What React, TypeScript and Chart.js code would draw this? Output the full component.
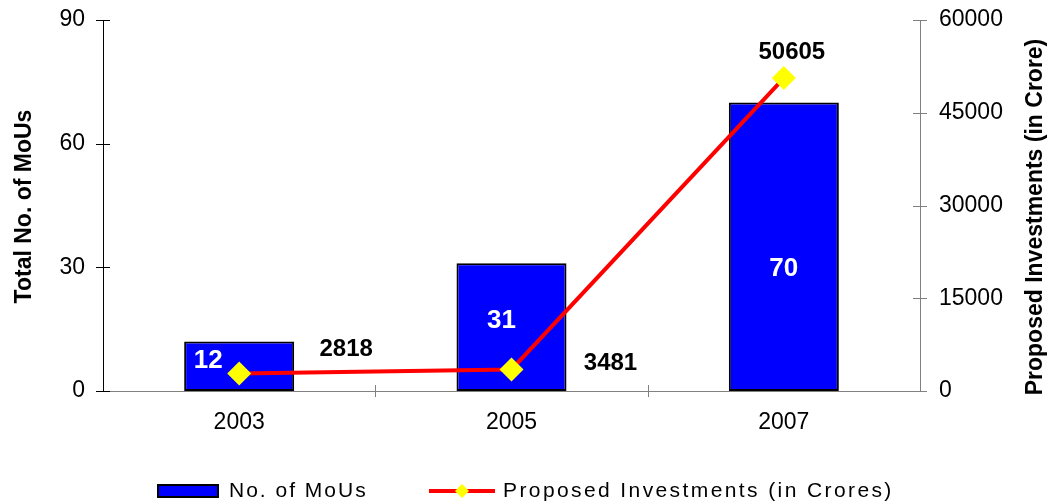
import React, { useEffect, useRef } from "react";
import { Chart, registerables } from "chart.js";

Chart.register(...registerables);

// ---- data ----
const years = ["2003", "2005", "2007"];
const mouCounts = [12, 31, 70];
const investments = [2818, 3481, 50605];
const mouTicks = [0, 30, 60, 90];
const investmentTicks = [0, 15000, 30000, 45000, 60000];
const barLabel = "No. of MoUs";
const lineLabel = "Proposed Investments (in Crores)";
const leftTitle = "Total No. of MoUs";
const rightTitle = "Proposed Investments (in Crore)";

// ---- styles ----
const FONT = "'Liberation Sans', Arial, Helvetica, sans-serif";
const BAR_LABEL_OFFSETS = [
  [-31, -5],
  [-10, -6],
  [0, 22],
];
const LINE_LABEL_OFFSETS = [
  [107, -24],
  [99, -6],
  [8, -26],
];

const noPad = (s: any) => {
  s.paddingTop = 0;
  s.paddingBottom = 0;
  s.paddingLeft = 0;
  s.paddingRight = 0;
};

const overlayPlugin = {
  id: "overlay",
  afterDatasetsDraw(chart: any) {
    const ctx = chart.ctx as CanvasRenderingContext2D;
    ctx.save();
    ctx.textAlign = "center";
    ctx.textBaseline = "middle";
    const barMeta = chart.getDatasetMeta(0);
    ctx.font = `bold 26px ${FONT}`;
    ctx.fillStyle = "#FFFFFF";
    barMeta.data.forEach((el: any, i: number) => {
      const cy = (el.y + el.base) / 2;
      const [dx, dy] = BAR_LABEL_OFFSETS[i];
      ctx.fillText(String(chart.data.datasets[0].data[i]), el.x + dx, cy + dy);
    });
    const lineMeta = chart.getDatasetMeta(1);
    ctx.font = `bold 24px ${FONT}`;
    ctx.fillStyle = "#000000";
    lineMeta.data.forEach((el: any, i: number) => {
      const [dx, dy] = LINE_LABEL_OFFSETS[i];
      ctx.fillText(String(chart.data.datasets[1].data[i]), el.x + dx, el.y + dy);
    });
    ctx.restore();
  },
  afterDraw(chart: any) {
    const ctx = chart.ctx as CanvasRenderingContext2D;
    const area = chart.chartArea;
    const sy = chart.scales.y;
    const sy1 = chart.scales.y1;
    const sx = chart.scales.x;
    ctx.save();
    ctx.lineWidth = 1;
    ctx.strokeStyle = "#000000";
    sy.ticks.forEach((_t: any, i: number) => {
      const y = Math.round(sy.getPixelForTick(i)) + 0.5;
      ctx.beginPath();
      ctx.moveTo(area.left - 7, y);
      ctx.lineTo(area.left + 7, y);
      ctx.stroke();
    });
    ctx.strokeStyle = "#808080";
    sy1.ticks.forEach((_t: any, i: number) => {
      const y = Math.round(sy1.getPixelForTick(i)) + 0.5;
      ctx.beginPath();
      ctx.moveTo(area.right - 7, y);
      ctx.lineTo(area.right + 7, y);
      ctx.stroke();
    });
    for (let i = 0; i < sx.ticks.length - 1; i++) {
      const x = Math.round((sx.getPixelForTick(i) + sx.getPixelForTick(i + 1)) / 2) + 0.5;
      ctx.beginPath();
      ctx.moveTo(x, area.bottom - 6);
      ctx.lineTo(x, area.bottom + 6);
      ctx.stroke();
    }
    // axis titles
    ctx.fillStyle = "#000000";
    ctx.font = `bold 23px ${FONT}`;
    ctx.textAlign = "center";
    ctx.textBaseline = "middle";
    ctx.save();
    ctx.translate(25, (area.top + area.bottom) / 2 + 1);
    ctx.rotate(-Math.PI / 2);
    ctx.fillText(leftTitle, 0, 0);
    ctx.restore();
    ctx.save();
    ctx.translate(1036, 217);
    ctx.rotate(-Math.PI / 2);
    ctx.fillText(rightTitle, 0, 0);
    ctx.restore();

    // legend
    const ds0 = chart.data.datasets[0];
    const ds1 = chart.data.datasets[1];
    const ly = 491;
    ctx.fillStyle = ds0.backgroundColor;
    ctx.fillRect(158, 485, 60, 12);
    ctx.lineWidth = 2;
    ctx.strokeStyle = "#000000";
    ctx.strokeRect(158, 485, 60, 12);
    ctx.font = `21px ${FONT}`;
    (ctx as any).letterSpacing = "2px";
    ctx.textAlign = "left";
    ctx.fillStyle = "#000000";
    ctx.fillText(ds0.label, 229, ly);
    ctx.strokeStyle = ds1.borderColor;
    ctx.lineWidth = 4;
    ctx.beginPath();
    ctx.moveTo(429, ly);
    ctx.lineTo(495, ly);
    ctx.stroke();
    ctx.fillStyle = ds1.pointBackgroundColor;
    ctx.beginPath();
    ctx.moveTo(462 - 7, ly);
    ctx.lineTo(462, ly - 7);
    ctx.lineTo(462 + 7, ly);
    ctx.lineTo(462, ly + 7);
    ctx.closePath();
    ctx.fill();
    ctx.fillStyle = "#000000";
    (ctx as any).letterSpacing = "2.4px";
    ctx.fillText(ds1.label, 503, ly);
    ctx.restore();
  },
};

export default function App() {
  const canvasRef = useRef<HTMLCanvasElement | null>(null);

  useEffect(() => {
    if (!canvasRef.current) return;
    const chart = new Chart(canvasRef.current, {
      type: "bar",
      data: {
        labels: years,
        datasets: [
          {
            type: "bar",
            label: barLabel,
            data: mouCounts,
            backgroundColor: "#0000FF",
            borderColor: "#000000",
            borderWidth: 2,
            borderSkipped: false,
            categoryPercentage: 1,
            barPercentage: 0.404,
            yAxisID: "y",
            order: 2,
          } as any,
          {
            type: "line",
            label: lineLabel,
            data: investments,
            borderColor: "#FF0000",
            borderWidth: 4,
            pointStyle: "rectRot",
            pointRadius: 12,
            pointBackgroundColor: "#FFFF00",
            pointBorderColor: "#FFFF00",
            pointBorderWidth: 0,
            tension: 0,
            yAxisID: "y1",
            order: 1,
          } as any,
        ],
      },
      options: {
        responsive: false,
        animation: false,
        layout: { padding: { top: 20, left: 0, right: 0, bottom: 0 } },
        plugins: {
          legend: { display: false },
          tooltip: { enabled: false },
        },
        scales: {
          x: {
            offset: true,
            grid: { display: false, drawTicks: false },
            border: { display: true, color: "#808080", width: 1 },
            ticks: {
              color: "#000000",
              font: { family: FONT, size: 23 },
              padding: 18,
              maxRotation: 0,
            },
            afterFit: (s: any) => {
              s.height = 111;
              noPad(s);
            },
          },
          y: {
            position: "left",
            min: 0,
            max: 90,
            grid: { display: false, drawTicks: false },
            border: { display: true, color: "#000000", width: 1 },
            ticks: {
              color: "#000000",
              font: { family: FONT, size: 23 },
              padding: 18,
              callback: (v: any) => String(v),
            },
            afterBuildTicks: (s: any) => {
              s.ticks = mouTicks.map((v) => ({ value: v }));
            },
            afterFit: (s: any) => {
              s.width = 103;
              noPad(s);
            },
          },
          y1: {
            position: "right",
            min: 0,
            max: 60000,
            grid: { display: false, drawTicks: false },
            border: { display: true, color: "#808080", width: 1 },
            ticks: {
              color: "#000000",
              font: { family: FONT, size: 23 },
              padding: 19,
              callback: (v: any) => String(v),
            },
            afterBuildTicks: (s: any) => {
              s.ticks = investmentTicks.map((v) => ({ value: v }));
            },
            afterFit: (s: any) => {
              s.width = 128;
              noPad(s);
            },
          },
        },
      } as any,
      plugins: [overlayPlugin],
    });
    return () => chart.destroy();
  }, []);

  return (
    <div style={{ position: "absolute", left: 0, top: 0, width: 1048, height: 502, background: "#FFFFFF" }}>
      <canvas ref={canvasRef} width={1048} height={502} style={{ display: "block" }} />
    </div>
  );
}
